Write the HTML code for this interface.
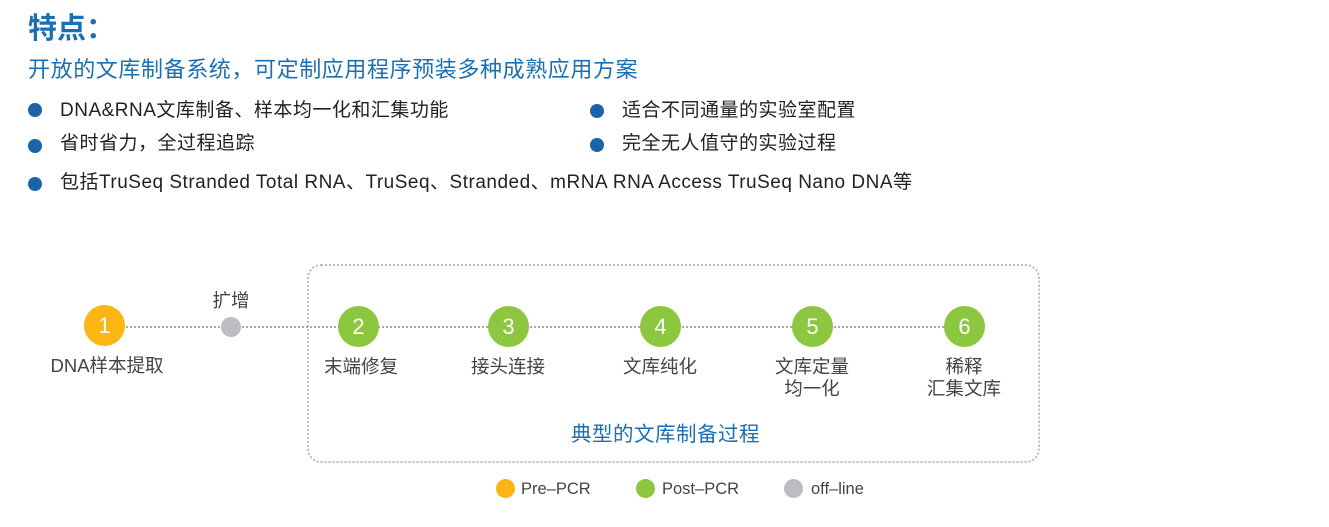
<!DOCTYPE html>
<html><head><meta charset="utf-8"><style>
body{margin:0;width:1329px;height:527px;background:#fff;position:relative;overflow:hidden;font-family:"Liberation Sans","Noto Sans CJK SC",sans-serif;}
.a{position:absolute;white-space:nowrap;}
.dot{position:absolute;width:14px;height:14px;border-radius:50%;background:#1b64a8;}
.bt{position:absolute;font-size:19px;letter-spacing:0.5px;color:#222;white-space:nowrap;line-height:20px;}
.c{position:absolute;border-radius:50%;color:#fff;font-size:22px;text-align:center;}
.lb{position:absolute;font-size:18.5px;color:#444;text-align:center;width:160px;line-height:22px;}
</style></head><body>
<div class="a" style="left:28px;top:5px;font-size:29px;font-weight:bold;color:#1a6fb5;">特点：</div>
<div class="a" style="left:28px;top:52px;font-size:22px;letter-spacing:0.6px;color:#1a6fb5;">开放的文库制备系统，可定制应用程序预装多种成熟应用方案</div>
<div class="dot" style="left:28px;top:103px"></div><div class="bt" style="left:60px;top:101px">DNA&amp;RNA文库制备、样本均一化和汇集功能</div>
<div class="dot" style="left:28px;top:139px"></div><div class="bt" style="left:60px;top:134px">省时省力，全过程追踪</div>
<div class="dot" style="left:28px;top:177px"></div><div class="bt" style="left:60px;top:173px">包括TruSeq Stranded Total RNA、TruSeq、Stranded、mRNA RNA Access TruSeq Nano DNA等</div>
<div class="dot" style="left:590px;top:104px"></div><div class="bt" style="left:622px;top:101px">适合不同通量的实验室配置</div>
<div class="dot" style="left:590px;top:138px"></div><div class="bt" style="left:622px;top:134px">完全无人值守的实验过程</div>

<div class="a" style="left:307px;top:264px;width:729px;height:195px;border:2px dotted #bbb;border-radius:14px;"></div>
<div class="a" style="left:110px;top:326px;width:850px;border-top:2px dotted #aaa;"></div>

<div class="c" style="left:84px;top:305px;width:41px;height:41px;line-height:41px;background:#fbb614">1</div>
<div class="c" style="left:221px;top:317px;width:20px;height:20px;background:#bcbdc0"></div>
<div class="c" style="left:338px;top:306px;width:41px;height:41px;line-height:41px;background:#8dc63f">2</div>
<div class="c" style="left:488px;top:306px;width:41px;height:41px;line-height:41px;background:#8dc63f">3</div>
<div class="c" style="left:640px;top:306px;width:41px;height:41px;line-height:41px;background:#8dc63f">4</div>
<div class="c" style="left:792px;top:306px;width:41px;height:41px;line-height:41px;background:#8dc63f">5</div>
<div class="c" style="left:944px;top:306px;width:41px;height:41px;line-height:41px;background:#8dc63f">6</div>

<div class="lb" style="left:151px;top:290px">扩增</div>
<div class="lb" style="left:27px;top:355px">DNA样本提取</div>
<div class="lb" style="left:281px;top:356px">末端修复</div>
<div class="lb" style="left:428px;top:356px">接头连接</div>
<div class="lb" style="left:580px;top:356px">文库纯化</div>
<div class="lb" style="left:732px;top:356px">文库定量<br>均一化</div>
<div class="lb" style="left:884px;top:356px">稀释<br>汇集文库</div>
<div class="a" style="left:571px;top:417px;font-size:20.5px;letter-spacing:0.5px;color:#1a6fb5;">典型的文库制备过程</div>

<div class="c" style="left:496px;top:479px;width:19px;height:19px;background:#fbb614"></div>
<div class="a" style="left:521px;top:480px;font-size:16.5px;color:#444">Pre–PCR</div>
<div class="c" style="left:636px;top:479px;width:19px;height:19px;background:#8dc63f"></div>
<div class="a" style="left:662px;top:480px;font-size:16.5px;color:#444">Post–PCR</div>
<div class="c" style="left:784px;top:479px;width:19px;height:19px;background:#bcbdc0"></div>
<div class="a" style="left:811px;top:480px;font-size:16.5px;color:#444">off–line</div>
</body></html>
